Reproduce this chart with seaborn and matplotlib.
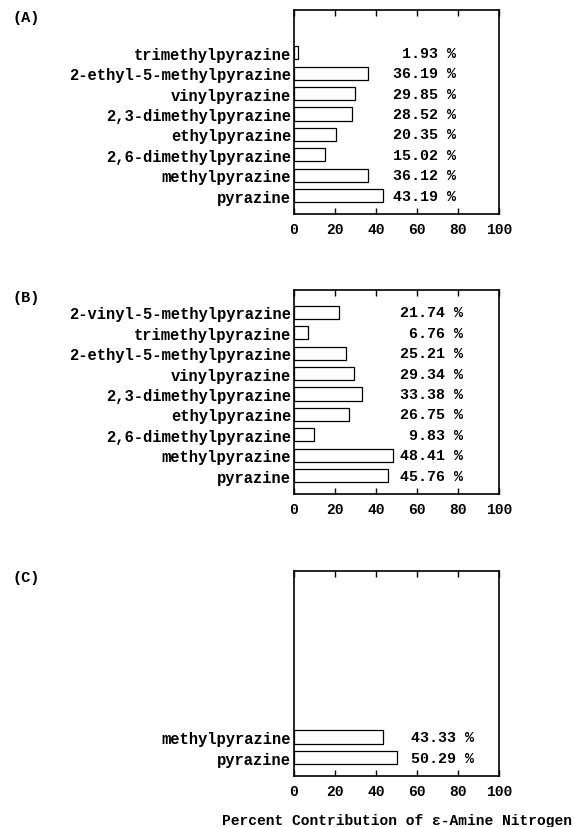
import matplotlib
matplotlib.use("Agg")
import matplotlib.pyplot as plt
import seaborn as sns
import pandas as pd

# ---- data ----
cats_a = ["trimethylpyrazine", "2-ethyl-5-methylpyrazine", "vinylpyrazine",
          "2,3-dimethylpyrazine", "ethylpyrazine", "2,6-dimethylpyrazine",
          "methylpyrazine", "pyrazine"]
vals_a = [1.93, 36.19, 29.85, 28.52, 20.35, 15.02, 36.12, 43.19]

cats_b = ["2-vinyl-5-methylpyrazine", "trimethylpyrazine", "2-ethyl-5-methylpyrazine",
          "vinylpyrazine", "2,3-dimethylpyrazine", "ethylpyrazine",
          "2,6-dimethylpyrazine", "methylpyrazine", "pyrazine"]
vals_b = [21.74, 6.76, 25.21, 29.34, 33.38, 26.75, 9.83, 48.41, 45.76]

cats_c = ["methylpyrazine", "pyrazine"]
vals_c = [43.33, 50.29]

panel_labels = ["(A)", "(B)", "(C)"]
x_ticks = [0, 20, 40, 60, 80, 100]
x_label = "Percent Contribution of \u03b5-Amine Nitrogen"

sns.set_theme(style="white")
FONT = ["Liberation Mono", "DejaVu Sans Mono"]
plt.rcParams["font.family"] = FONT
plt.rcParams["font.weight"] = "bold"
plt.rcParams["text.color"] = "black"
plt.rcParams["xtick.color"] = "black"
plt.rcParams["ytick.color"] = "black"
plt.rcParams["axes.labelcolor"] = "black"

W, H = 574, 828
fig = plt.figure(figsize=(W / 100, H / 100), dpi=100)

# axes boxes in pixel coordinates (left, top, right, bottom)
boxes = [(294, 11, 499, 215), (294, 291, 499, 495), (294, 572, 499, 777)]
label_pos = [(12, 18), (12, 298), (12, 578)]
text_x = [79, 82.5, 88]
panels = [(cats_a, vals_a), (cats_b, vals_b), (cats_c, vals_c)]

for (cats, vals), (l, t, r, b), plab, (lx, ly), tx in zip(panels, boxes, panel_labels,
                                                          label_pos, text_x):
    ax = fig.add_axes([l / W, 1 - b / H, (r - l) / W, (b - t) / H])
    df = pd.DataFrame({"compound": cats, "value": vals})
    sns.barplot(data=df, x="value", y="compound", orient="h", ax=ax,
                color="white", edgecolor="black", linewidth=0.9, width=0.65,
                saturation=1)
    n = len(cats)
    ax.set_ylim(n - 1 + 0.9, n - 1 - 9.1)
    ax.set_xlim(0, 100)
    ax.set_xticks(x_ticks)
    ax.set_xticklabels([str(v) for v in x_ticks], fontsize=10.5, fontweight="bold")
    ax.tick_params(axis="x", direction="in", length=4, width=1, top=True,
                   bottom=True, pad=6, colors="black")
    ax.tick_params(axis="y", length=0, pad=2, labelsize=11.2, labelcolor="black")
    for lab in ax.get_yticklabels():
        lab.set_fontweight("bold")
    ax.set_xlabel("")
    ax.set_ylabel("")
    for sp in ax.spines.values():
        sp.set_visible(True)
        sp.set_color("black")
        sp.set_linewidth(1.2)
    for i, v in enumerate(vals):
        ax.text(tx, i, f"{v:.2f} %", ha="right", va="center",
                fontsize=10.8, fontweight="bold", color="black")
    fig.text(lx / W, 1 - ly / H, plab, ha="left", va="center",
             fontsize=11, fontweight="bold", color="black")

fig.text(572 / W, 1 - 821 / H, x_label, ha="right", va="center",
         fontsize=10.5, fontweight="bold", color="black", family=FONT)

fig.savefig("out.png", dpi=100, facecolor="white")
